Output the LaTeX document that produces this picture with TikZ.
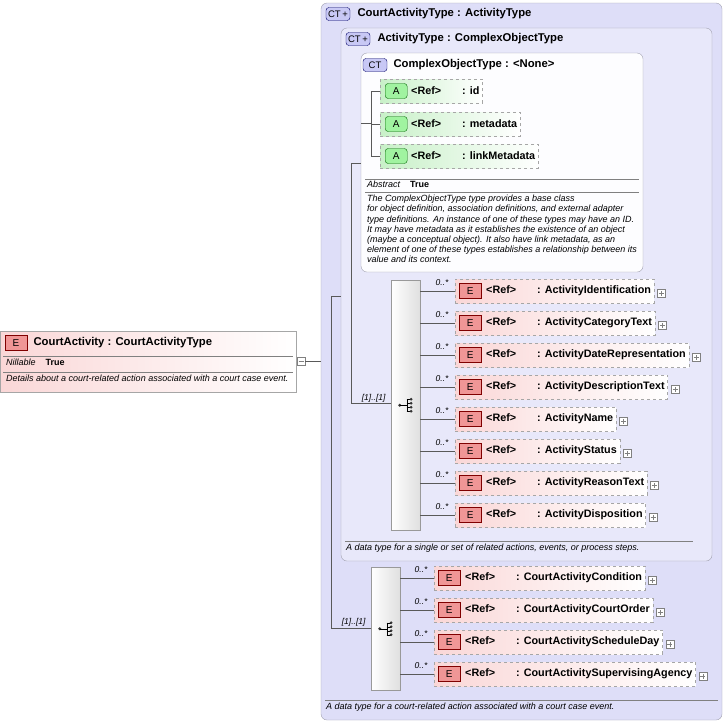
\documentclass[tikz,border=0pt]{standalone}
\usepackage{fontspec}
\setmainfont{Liberation Sans}
\usetikzlibrary{positioning}
\usetikzlibrary{calc}

\definecolor{lav}{RGB}{222,222,248}
\definecolor{lavline}{RGB}{160,160,175}
\definecolor{epink}{RGB}{250,215,215}
\definecolor{ebadgefill}{RGB}{240,150,150}
\definecolor{agreen}{RGB}{200,240,200}
\definecolor{ctfill}{RGB}{200,200,245}

\tikzset{
  typebox/.style = {draw=lavline, rounded corners=6pt, fill=lav},
  cobox/.style   = {draw=lavline, rounded corners=6pt, fill=white!94!lav},
  elem/.style    = {draw=gray!70, dashed, left color=epink, right color=white,
                    minimum height=24pt, inner sep=3pt, anchor=west,
                    font=\fontsize{10.8}{11}\selectfont\bfseries},
  attr/.style    = {elem, left color=agreen, right color=white},
  ebadge/.style  = {draw=red!50!black, fill=ebadgefill, minimum width=22pt,
                    minimum height=15pt, inner sep=0pt, font=\fontsize{10}{11}\selectfont},
  abadge/.style  = {draw=green!40!black, fill=agreen!80!green, rounded corners=3pt,
                    minimum width=22pt, minimum height=15pt, inner sep=0pt,
                    font=\fontsize{10}{11}\selectfont},
  ctbadge/.style = {draw=blue!40!black, fill=ctfill, rounded corners=3pt,
                    minimum width=24pt, minimum height=13pt, inner sep=0pt,
                    font=\fontsize{9.5}{10}\selectfont},
  plusbox/.style = {draw=gray, fill=white, minimum size=8pt, inner sep=0pt,
                    path picture={\draw [gray] ([xshift=-2.5pt]path picture bounding box.center)
                      -- ([xshift=2.5pt]path picture bounding box.center)
                      ([yshift=-2.5pt]path picture bounding box.center)
                      -- ([yshift=2.5pt]path picture bounding box.center);}},
  seqbox/.style  = {draw=gray!80, left color=white, right color=gray!25,
                    minimum width=29pt, inner sep=0pt},
  dot/.style     = {circle, fill=black!80, inner sep=0pt, minimum size=3.2pt},
  mult/.style    = {font=\fontsize{8.5}{9}\selectfont\itshape},
  title/.style   = {anchor=west, font=\fontsize{11.3}{12}\selectfont\bfseries},
  desc/.style    = {anchor=north west, font=\fontsize{9}{10.2}\selectfont\itshape,
                    inner sep=0pt, align=left},
  link/.style    = {draw=gray!70!black, line width=0.5pt}
}

\newcommand{\xrefname}[1]{\hspace*{28pt}\makebox[51pt][l]{<Ref>}: #1}
\newcommand{\seqicon}[1]{%
  \node (#1-d) [dot] at ($(#1)+(-6,0)$) {};
  \draw ($(#1)+(-6,0)$) -- ($(#1)+(1,0)$) ($(#1)+(1,-6)$) -- ($(#1)+(1,6)$);
  \foreach \k in {-6,-2,2,6} {
    \draw ($(#1)+(1,\k)$) -- ($(#1)+(5,\k)$);
    \node [dot, minimum size=3pt] at ($(#1)+(5.5,\k)$) {};
  }}

\begin{document}
\begin{tikzpicture}[x=1pt,y=-1pt]
  \useasboundingbox (0,0) rectangle (725,724);

  % main element
  \node (main) [draw=gray!70, left color=epink, right color=white,
    minimum width=296pt, minimum height=61pt, anchor=north west, inner sep=0pt] at (0,331) {};
  \node (mainE) [ebadge] at (16,343) {E};
  \node [title] at (30,343) {CourtActivity : CourtActivityType};
  \draw [gray] (3,356) -- (293,356) (3,372) -- (293,372);
  \node [desc] at (6,359) {Nillable\hspace{10pt}\upshape\bfseries True};
  \node [desc] at (6,375) {Details about a court-related action associated with a court case event.};
  \node (mainplus) [draw=gray, fill=white, minimum size=8pt, inner sep=0pt] at (301,361) {};
  \draw [gray] (298.5,361) -- (303.5,361);

  % type boxes
  \draw [typebox] (321,3) rectangle (722,720);
  \node [ctbadge] at (338,14) {CT\,+};
  \node [title] at (354,14) {CourtActivityType : ActivityType};
  \draw [gray] (325,700) -- (718,700);
  \node [desc] at (326,703) {A data type for a court-related action associated with a court case event.};

  \draw [typebox, fill=lav!70!white] (341,28) rectangle (712,561);
  \node [ctbadge] at (358,39) {CT\,+};
  \node [title] at (374,39) {ActivityType : ComplexObjectType};
  \draw [gray] (345,541) -- (693,541);
  \node [desc] at (346,544) {A data type for a single or set of related actions, events, or process steps.};

  \draw [cobox] (361,53) rectangle (643,272);
  \node [ctbadge] at (375,65) {CT};
  \node [title] at (390,65) {ComplexObjectType : <None>};
  \draw [gray] (365,179) -- (639,179) (365,192) -- (639,192);
  \node [desc] at (367,181) {Abstract\hspace{10pt}\upshape\bfseries True};
  \node [desc] at (367,195) {The ComplexObjectType type provides a base class\\
    for object definition, association definitions, and external adapter\\
    type definitions. An instance of one of these types may have an ID.\\
    It may have metadata as it establishes the existence of an object\\
    (maybe a conceptual object). It also have link metadata, as an\\
    element of one of these types establishes a relationship between its\\
    value and its context.};

  % attributes
  \foreach \nm/\yy in {id/91, metadata/124, linkMetadata/156} {
    \node (a-\nm) [attr] at (380,\yy) {\xrefname{\nm}};
    \node [abadge, right=5pt of a-\nm.west] {A};
    \draw [link] (371,\yy) -- (a-\nm.west);
  }
  \draw [link] (371,91) -- (371,156);

  % sequence 1
  \node (seq1) [seqbox, minimum height=250pt, anchor=north west] at (391,280) {};
  \seqicon{seq1}
  \node [mult, anchor=east] at (389,398) {[1]..[1]};
  \foreach \nm/\yy in {ActivityIdentification/291, ActivityCategoryText/323,
      ActivityDateRepresentation/355, ActivityDescriptionText/387,
      ActivityName/419, ActivityStatus/451, ActivityReasonText/483,
      ActivityDisposition/515} {
    \node (e-\nm) [elem] at (455,\yy) {\xrefname{\nm}};
    \node [ebadge, right=4pt of e-\nm.west] {E};
    \node [plusbox, right=3pt of e-\nm.east, yshift=-2pt] {};
    \draw [link] (seq1.east |- e-\nm.west) -- (e-\nm.west);
    \node [mult, anchor=south east] at (452,\yy-2) {0..*};
  }

  % sequence 2
  \node (seq2) [seqbox, minimum height=123pt, anchor=north west] at (371,567) {};
  \seqicon{seq2}
  \node [mult, anchor=east] at (369,622) {[1]..[1]};
  \foreach \nm/\yy in {CourtActivityCondition/578, CourtActivityCourtOrder/610,
      CourtActivityScheduleDay/642, CourtActivitySupervisingAgency/674} {
    \node (e-\nm) [elem] at (434,\yy) {\xrefname{\nm}};
    \node [ebadge, right=4pt of e-\nm.west] {E};
    \node [plusbox, right=3pt of e-\nm.east, yshift=-2pt] {};
    \draw [link] (seq2.east |- e-\nm.west) -- (e-\nm.west);
    \node [mult, anchor=south east] at (431,\yy-2) {0..*};
  }

  % tree connectors
  \draw [link] (mainplus.east) -- (321,361);
  \draw [link] (331,296) -- (331,628) (331,296) -- (341,296);
  \draw [link] (331,628) -- (seq2.west |- 331,628);
  \draw [link] (351,163) -- (351,403) (351,163) -- (361,163);
  \draw [link] (351,403) -- (seq1.west |- 351,403);
  \draw [link] (361,123) -- (371,123);
\end{tikzpicture}
\end{document}
